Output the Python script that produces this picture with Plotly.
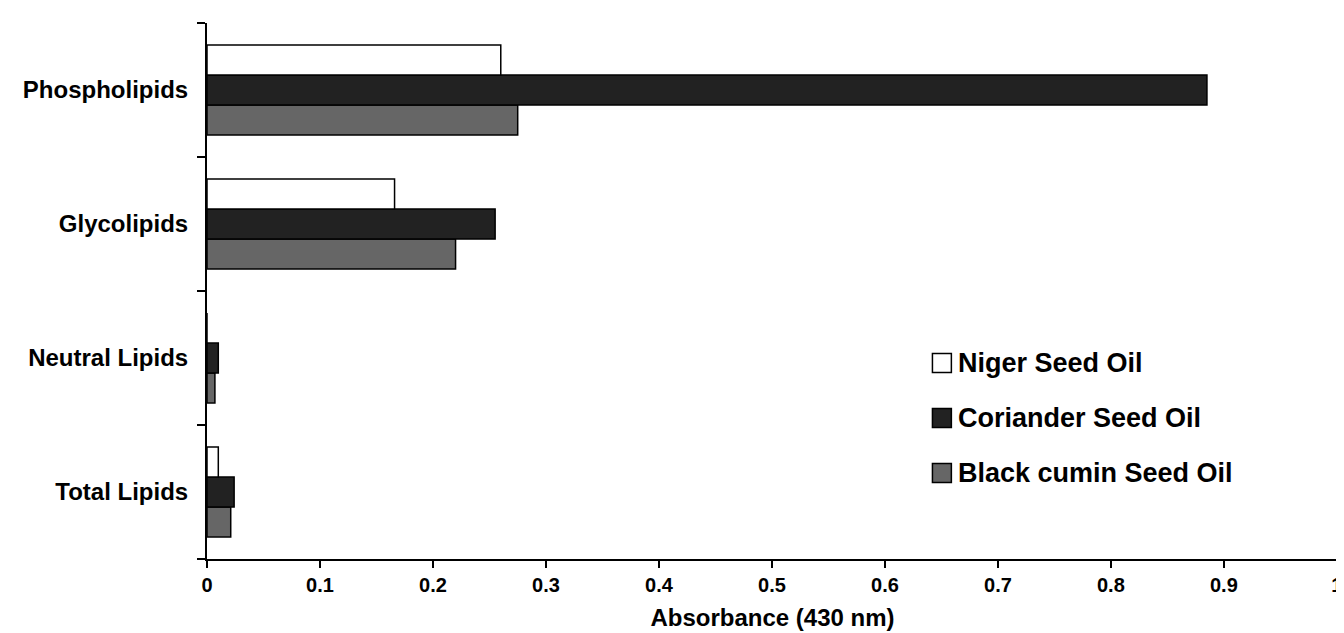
import plotly.graph_objects as go

categories = ["Total Lipids", "Neutral Lipids", "Glycolipids", "Phospholipids"]
series_names = ["Niger Seed Oil", "Coriander Seed Oil", "Black cumin Seed Oil"]
niger = [0.010, 0.0, 0.166, 0.260]
coriander = [0.024, 0.010, 0.255, 0.885]
black_cumin = [0.021, 0.007, 0.220, 0.275]
colors = ["#ffffff", "#222222", "#666666"]
x_ticks = [0, 0.1, 0.2, 0.3, 0.4, 0.5, 0.6, 0.7, 0.8, 0.9, 1]

FONT = "Liberation Sans, Arial, sans-serif"

fig = go.Figure()
values = [niger, coriander, black_cumin]
# add in reverse so Niger sits on top within each group
for name, vals, col in reversed(list(zip(series_names, values, colors))):
    fig.add_trace(go.Bar(
        y=categories, x=vals, name=name, orientation="h",
        marker=dict(color=col, line=dict(color="#000000", width=1.5)),
        showlegend=False,
    ))

# manual legend (large square swatches)
W, H = 1344, 633
L, R, T, B = 199, 10, 15, 82
pw, ph = W - L - R, H - T - B
def px(xp):
    return (xp - L) / pw
def py(yp):
    return (H - B - yp) / ph

row_y = [355, 410, 465]
for name, col, yc in zip(series_names, colors, row_y):
    fig.add_shape(type="rect", xref="paper", yref="paper",
                  x0=px(927), x1=px(946), y0=py(yc + 9.5), y1=py(yc - 9.5),
                  fillcolor=col, line=dict(color="#000000", width=1.5))
    fig.add_annotation(xref="paper", yref="paper", x=px(951), y=py(yc),
                       text=name, showarrow=False, xanchor="left", yanchor="middle",
                       font=dict(family=FONT, size=27, color="#000000", weight="bold"))

fig.update_layout(
    width=W, height=H,
    margin=dict(l=L, r=R, t=T, b=B),
    barmode="group", bargap=0.33, bargroupgap=0,
    plot_bgcolor="#ffffff", paper_bgcolor="#ffffff",
    font=dict(family=FONT, color="#000000"),
    xaxis=dict(
        range=[0, 1.001], tickmode="array", tickvals=x_ticks,
        ticktext=[f"{v:g}" for v in x_ticks],
        showgrid=False, zeroline=False,
        showline=True, linecolor="#000000", linewidth=2,
        ticks="outside", ticklen=7, tickwidth=2, tickcolor="#000000",
        ticklabeloverflow="allow",
        tickfont=dict(family=FONT, size=20, color="#000000", weight="bold"),
        title=dict(text="Absorbance (430 nm)", standoff=14,
                   font=dict(family=FONT, size=24, color="#000000", weight="bold")),
    ),
    yaxis=dict(
        categoryorder="array", categoryarray=categories,
        showgrid=False, zeroline=False,
        showline=True, linecolor="#000000", linewidth=2,
        ticks="outside", tickson="boundaries", ticklen=8, tickwidth=2, tickcolor="#000000",
        ticklabelstandoff=12,
        tickfont=dict(family=FONT, size=24, color="#000000", weight="bold"),
    ),
)

fig.write_html("out.html")
